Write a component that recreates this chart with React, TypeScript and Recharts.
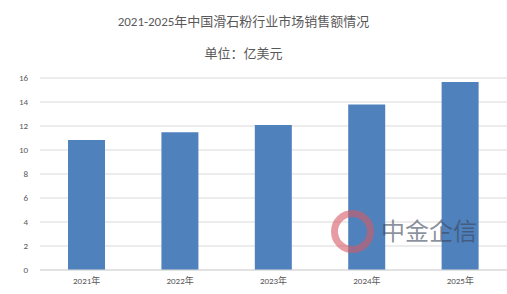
import { BarChart, Bar, XAxis, YAxis, CartesianGrid } from 'recharts';

const years = ['2021年', '2022年', '2023年', '2024年', '2025年'];
const sales = [10.83, 11.47, 12.08, 13.8, 15.67];
const yTicks = [0, 2, 4, 6, 8, 10, 12, 14, 16];

const chartData = years.map((year, i) => ({ year, sales: sales[i] }));

const font = 'Calibri, Carlito, "Liberation Sans", "Noto Sans CJK SC", sans-serif';

export default function App() {
  return (
    <div style={{ position: 'fixed', left: 0, top: 0, width: 507, height: 294, background: '#fff', fontFamily: font }}>
      <div style={{ position: 'absolute', top: 11, left: 0, width: 487, textAlign: 'center', fontSize: 13, color: '#595959' }}>
        2021-2025年中国滑石粉行业市场销售额情况
      </div>
      <div style={{ position: 'absolute', top: 43, left: 0, width: 487, textAlign: 'center', fontSize: 13, color: '#595959' }}>
        单位：亿美元
      </div>
      <BarChart
        width={507}
        height={294}
        data={chartData}
        margin={{ top: 78, right: 0, left: 0, bottom: 4 }}
        barCategoryGap="30%"
      >
        <CartesianGrid vertical={false} stroke="#d9d9d9" />
        <XAxis
          dataKey="year"
          height={20}
          tick={{ fill: '#595959', fontSize: 9 }}
          tickLine={false}
          axisLine={{ stroke: '#d9d9d9' }}
        />
        <YAxis
          width={40}
          domain={[0, 16]}
          ticks={yTicks}
          tick={{ fill: '#595959', fontSize: 9 }}
          tickLine={false}
          axisLine={false}
          tickMargin={6}
        />
        <Bar dataKey="sales" fill="#4f81bd" isAnimationActive={false} />
      </BarChart>
      {/* watermark */}
      <div style={{ position: 'absolute', left: 331, top: 210, width: 43, height: 43, borderRadius: '50%', border: '7px solid rgba(214,90,100,0.6)', boxSizing: 'border-box' }} />
      <div style={{ position: 'absolute', left: 381, top: 218, fontSize: 24, lineHeight: 1, fontFamily: '"Noto Sans CJK SC", sans-serif', color: 'rgba(60,70,90,0.6)' }}>
        中金企信
      </div>
    </div>
  );
}
